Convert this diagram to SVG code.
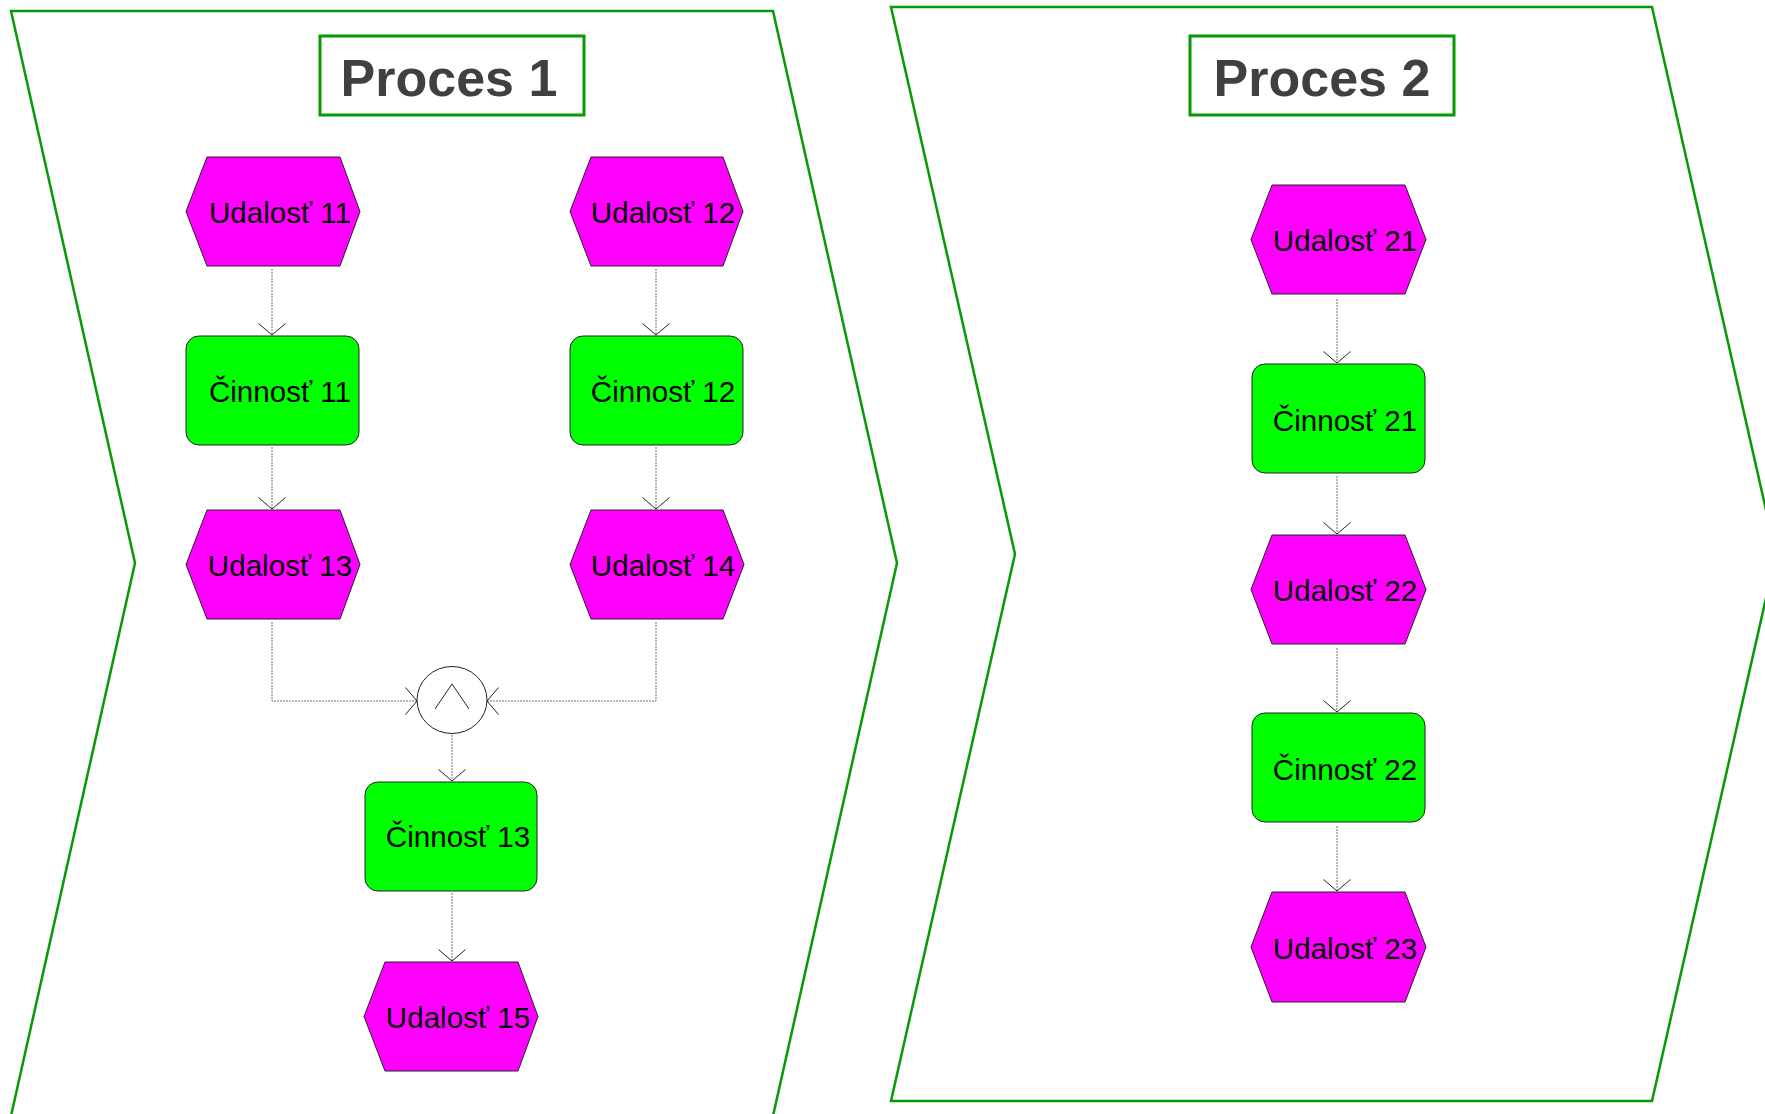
<svg xmlns="http://www.w3.org/2000/svg" width="1765" height="1114" viewBox="0 0 1765 1114">
<style>
.lane{fill:#ffffff;stroke:#079a07;stroke-width:2.5}
.title{fill:#ffffff;stroke:#079a07;stroke-width:3}
.ttxt{font-family:"Liberation Sans",Arial,sans-serif;font-weight:bold;font-size:52px;fill:#404040;text-anchor:middle}
.ev{fill:#ff00ff;stroke:#222;stroke-width:1}
.fn{fill:#00ff00;stroke:#222;stroke-width:1}
.lbl{font-family:"Liberation Sans",Arial,sans-serif;font-size:29.6px;fill:#000;text-anchor:middle}
.con{fill:none;stroke:#707070;stroke-width:1;stroke-dasharray:2 1}
.op{fill:#ffffff;stroke:#222;stroke-width:1}
</style>
<defs>
<marker id="arr" markerUnits="userSpaceOnUse" viewBox="-13 -15 15 30" refX="0" refY="0" markerWidth="15" markerHeight="30" orient="auto" overflow="visible">
<path d="M-11.5,-13.5 L0,0 L-11.5,13.5" fill="none" stroke="#222" stroke-width="1"/>
</marker>
</defs>
<rect width="1765" height="1114" fill="#ffffff"/>

<g id="lane1">
<polygon class="lane" points="11,11 773,11 897,563 773,1116 11,1116 135,563"/>
<rect class="title" x="320" y="36" width="264" height="79"/>
<text class="ttxt" x="449" y="96">Proces 1</text>
</g>
<g id="lane2">
<polygon class="lane" points="891,7 1652,7 1776,554 1652,1101 891,1101 1015,554"/>
<rect class="title" x="1190" y="36" width="264" height="79"/>
<text class="ttxt" x="1322" y="96">Proces 2</text>
</g>

<g id="connectors">
<path class="con" d="M272,269 V335" marker-end="url(#arr)"/>
<path class="con" d="M272,447 V509" marker-end="url(#arr)"/>
<path class="con" d="M656,269 V335" marker-end="url(#arr)"/>
<path class="con" d="M656,447 V509" marker-end="url(#arr)"/>
<path class="con" d="M272,622 V701 H417" marker-end="url(#arr)"/>
<path class="con" d="M656,622 V701 H487" marker-end="url(#arr)"/>
<path class="con" d="M452,735 V781" marker-end="url(#arr)"/>
<path class="con" d="M452,893 V961" marker-end="url(#arr)"/>
<path class="con" d="M1337,299 V363" marker-end="url(#arr)"/>
<path class="con" d="M1337,476 V534" marker-end="url(#arr)"/>
<path class="con" d="M1337,648 V712" marker-end="url(#arr)"/>
<path class="con" d="M1337,826 V891" marker-end="url(#arr)"/>
</g>

<g id="e11"><polygon class="ev" points="186,211.5 207,157 340,157 360,211.5 340,266 207,266"/><text class="lbl" x="280" y="223">Udalosť 11</text></g>
<g id="e12"><polygon class="ev" points="570,211.5 591,157 723,157 743,211.5 723,266 591,266"/><text class="lbl" x="663" y="223">Udalosť 12</text></g>
<g id="f11"><rect class="fn" x="186" y="336" width="173" height="109" rx="13"/><text class="lbl" x="280" y="402">Činnosť 11</text></g>
<g id="f12"><rect class="fn" x="570" y="336" width="173" height="109" rx="13"/><text class="lbl" x="663" y="402">Činnosť 12</text></g>
<g id="e13"><polygon class="ev" points="186,564.5 207,510 340,510 360,564.5 340,619 207,619"/><text class="lbl" x="280" y="576">Udalosť 13</text></g>
<g id="e14"><polygon class="ev" points="570,564.5 591,510 723,510 744,564.5 723,619 591,619"/><text class="lbl" x="663" y="576">Udalosť 14</text></g>
<g id="and1"><ellipse class="op" cx="452" cy="700" rx="35" ry="33.5"/><path d="M435,709 L452,684 L469,709" fill="none" stroke="#222" stroke-width="1"/></g>
<g id="f13"><rect class="fn" x="365" y="782" width="172" height="109" rx="13"/><text class="lbl" x="458" y="847">Činnosť 13</text></g>
<g id="e15"><polygon class="ev" points="364,1016.5 385,962 518,962 538,1016.5 518,1071 385,1071"/><text class="lbl" x="458" y="1028">Udalosť 15</text></g>

<g id="e21"><polygon class="ev" points="1251,239.5 1272,185 1405,185 1426,239.5 1405,294 1272,294"/><text class="lbl" x="1345" y="251">Udalosť 21</text></g>
<g id="f21"><rect class="fn" x="1252" y="364" width="173" height="109" rx="13"/><text class="lbl" x="1345" y="431">Činnosť 21</text></g>
<g id="e22"><polygon class="ev" points="1251,589.5 1272,535 1405,535 1426,589.5 1405,644 1272,644"/><text class="lbl" x="1345" y="601">Udalosť 22</text></g>
<g id="f22"><rect class="fn" x="1252" y="713" width="173" height="109" rx="13"/><text class="lbl" x="1345" y="780">Činnosť 22</text></g>
<g id="e23"><polygon class="ev" points="1251,947 1272,892 1405,892 1426,947 1405,1002 1272,1002"/><text class="lbl" x="1345" y="959">Udalosť 23</text></g>
</svg>
